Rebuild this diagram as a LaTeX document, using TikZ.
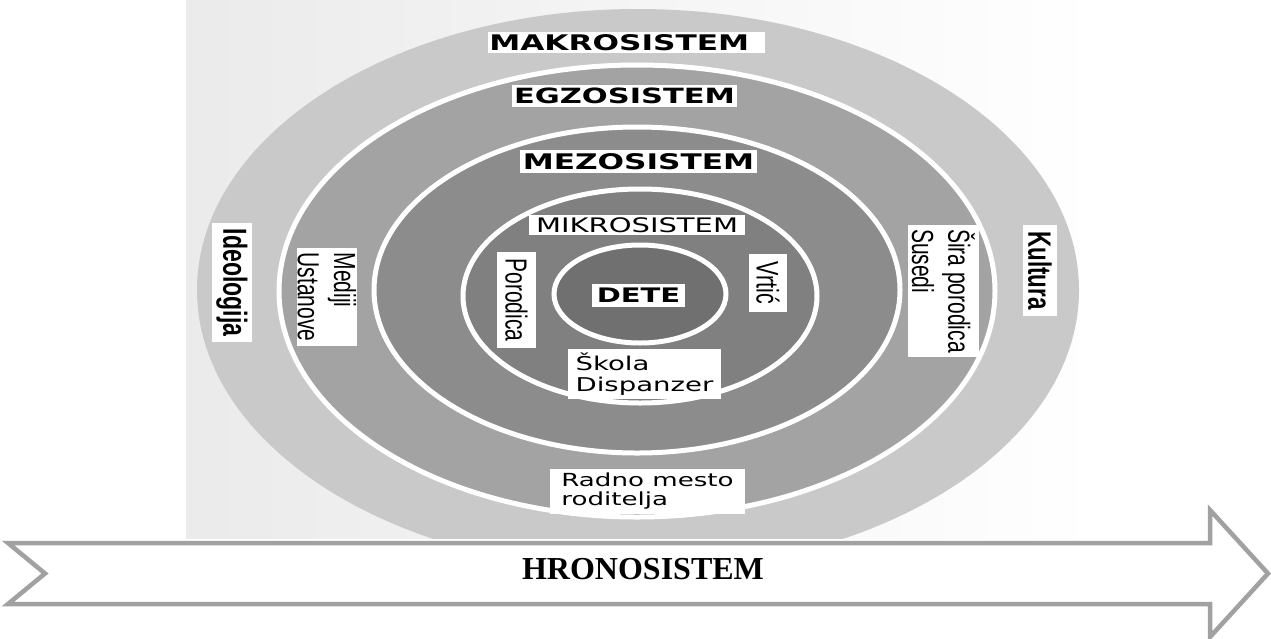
\documentclass[tikz,border=0pt]{standalone}
\usepackage{fontspec}
\setmainfont{Liberation Serif}
\newfontfamily\dvs{DejaVu Sans}
\newfontfamily\lbs{Liberation Sans}
\definecolor{cbg}{gray}{0.92}
\definecolor{cmak}{gray}{0.79}
\definecolor{cegz}{gray}{0.64}
\definecolor{cmez}{gray}{0.55}
\definecolor{cmik}{gray}{0.50}
\definecolor{cdet}{gray}{0.44}
\definecolor{carrow}{gray}{0.63}
\tikzset{
  hbox/.style={fill=white, inner sep=0pt, xscale=1.45, text=black},
  vbox/.style={fill=white, inner sep=0pt, xscale=1.45, rotate=-90, align=left, text=black},
  ring/.style={draw=white, line width=5pt},
  timearrow/.style={draw=carrow, fill=white, line width=4.5pt, miter limit=10},
}
\begin{document}
\begin{tikzpicture}[x=1pt, y=-1pt]
\useasboundingbox (0,0) rectangle (1271,638);
% photo background
\shade[left color=cbg, right color=white] (186,0) rectangle (1100,538);
\begin{scope}
  \clip (186,0) rectangle (1271,538);
  \fill[cmak] (638,290) ellipse [x radius=441pt, y radius=281pt];
  \filldraw[ring, fill=cegz] (637,291) ellipse [x radius=358pt, y radius=226pt];
  \filldraw[ring, fill=cmez] (637,290) ellipse [x radius=263pt, y radius=163pt];
  \filldraw[ring, fill=cmik] (640,296) ellipse [x radius=177pt, y radius=107pt];
  \filldraw[ring, fill=cdet] (640,294) ellipse [x radius=86pt, y radius=49pt];
\end{scope}
% horizontal labels
\node[hbox, minimum width=191pt, minimum height=21pt, font=\dvs\bfseries\fontsize{21.5}{24}\selectfont] (mak) at (626.5,42.5) {MAKROSISTEM\hspace*{10pt}};
\node[hbox, minimum width=155pt, minimum height=22pt, font=\dvs\bfseries\fontsize{21}{24}\selectfont] (egz) at (624.5,96) {EGZOSISTEM};
\node[hbox, minimum width=163.4pt, minimum height=23pt, font=\dvs\bfseries\fontsize{21.5}{24}\selectfont] (mez) at (638.5,161.5) {MEZOSISTEM};
\node[hbox, minimum width=149pt, minimum height=20pt, font=\dvs\fontsize{20}{24}\selectfont] (mik) at (637,225) {MIKROSISTEM};
\node[hbox, minimum width=64pt, minimum height=23pt, font=\dvs\bfseries\fontsize{20}{24}\selectfont] (det) at (638.5,295.5) {DETE};
\node[hbox, align=left, minimum width=105.5pt, minimum height=50pt, font=\dvs\fontsize{19}{21}\selectfont] (sko) at (644.5,374) {Škola\\Dispanzer};
\node[hbox, align=left, minimum width=134.5pt, minimum height=45pt, font=\dvs\fontsize{18}{19}\selectfont] (rad) at (647.5,491.5) {Radno mesto\\roditelja};
% vertical labels
\node[vbox, minimum width=119pt, minimum height=27.6pt, font=\lbs\bfseries\fontsize{23}{26}\selectfont] (ide) at (232,282.5) {Ideologija};
\node[vbox, minimum width=98pt, minimum height=41.4pt, font=\lbs\fontsize{21}{25}\selectfont] (med) at (327,297) {Mediji\\Ustanove};
\node[vbox, minimum width=96pt, minimum height=27pt, font=\lbs\fontsize{21}{25}\selectfont] (por) at (516.5,300) {Porodica};
\node[vbox, minimum width=58pt, minimum height=26.2pt, font=\lbs\fontsize{21.5}{25}\selectfont] (vrt) at (768,283) {Vrtić};
\node[vbox, minimum width=132pt, minimum height=49pt, font=\lbs\fontsize{21}{25}\selectfont] (sir) at (943.5,291) {Šira porodica\\Susedi};
\node[vbox, minimum width=91pt, minimum height=23.4pt, font=\lbs\bfseries\fontsize{22.3}{26}\selectfont] (kul) at (1040,270.5) {Kultura};
% time arrow
\draw[timearrow] (8,543) -- (1210,543) -- (1210,510) -- (1268,573.5) -- (1210,637) -- (1210,604) -- (8,604) -- (45,573.5) -- cycle;
\node[inner sep=0pt, font=\bfseries\fontsize{32}{36}\selectfont] (hro) at (643,569) {HRONOSISTEM};
\end{tikzpicture}
\end{document}
